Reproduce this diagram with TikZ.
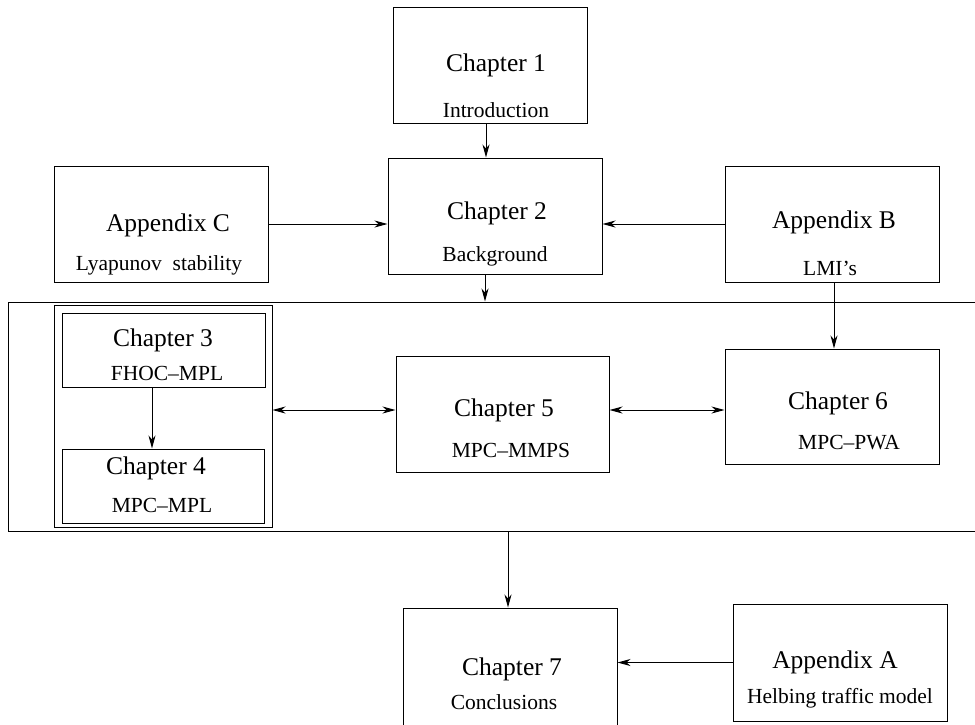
\documentclass[tikz,border=0pt]{standalone}
\usepackage{fontspec}
\setmainfont{Liberation Serif}
\usetikzlibrary{arrows.meta}
\begin{document}
\begin{tikzpicture}[x=1pt,y=-1pt,
    box/.style={draw,line width=1pt,inner sep=0pt},
    title/.style={font=\fontsize{25.5}{30}\selectfont,inner sep=0pt},
    sub/.style={font=\fontsize{21.5}{26}\selectfont,inner sep=0pt},
    arr/.style={line width=1pt,-{Stealth[length=13pt,width=7pt,inset=4pt]}},
    dbl/.style={line width=1pt,{Stealth[length=13pt,width=7pt,inset=4pt]}-{Stealth[length=13pt,width=7pt,inset=4pt]}}]
    \useasboundingbox (0,0) rectangle (975,724);
    % Boxes
    \node[box,minimum width=194pt,minimum height=116pt] (ch1) at (490,65) {};
    \node[box,minimum width=214pt,minimum height=116pt] (ch2) at (495,216) {};
    \node[box,minimum width=214pt,minimum height=116pt] (appC) at (161,224) {};
    \node[box,minimum width=214pt,minimum height=116pt] (appB) at (832,224) {};
    \node[box,minimum width=968pt,minimum height=229pt] (frame) at (492,416.5) {};
    \node[box,minimum width=218pt,minimum height=222pt] (group) at (163,416) {};
    \node[box,minimum width=203pt,minimum height=74pt] (ch3) at (163.5,350) {};
    \node[box,minimum width=202pt,minimum height=74pt] (ch4) at (163,486) {};
    \node[box,minimum width=213pt,minimum height=116pt] (ch5) at (502.5,414) {};
    \node[box,minimum width=214pt,minimum height=115pt] (ch6) at (832,406.5) {};
    \node[box,minimum width=214pt,minimum height=118pt] (ch7) at (510,667) {};
    \node[box,minimum width=214pt,minimum height=117pt] (appA) at (840,662.5) {};
    % Labels
    \node[title] (ch1t) at (496,65) {Chapter 1};
    \node[sub] (ch1s) at (496,110) {Introduction};
    \node[title] (ch2t) at (497,213) {Chapter 2};
    \node[sub] (ch2s) at (495,256) {Background};
    \node[title] (appCt) at (168,225) {Appendix C};
    \node[sub] (appCs) at (159,265) {Lyapunov\ \ stability};
    \node[title] (appBt) at (834,222) {Appendix B};
    \node[sub] (appBs) at (830,268) {LMI's};
    \node[title] (ch3t) at (163,340) {Chapter 3};
    \node[sub] (ch3s) at (167,373) {FHOC--MPL};
    \node[title] (ch4t) at (156,468) {Chapter 4};
    \node[sub] (ch4s) at (162,505) {MPC--MPL};
    \node[title] (ch5t) at (504,410) {Chapter 5};
    \node[sub] (ch5s) at (511,450) {MPC--MMPS};
    \node[title] (ch6t) at (838,403) {Chapter 6};
    \node[sub] (ch6s) at (849,443) {MPC--PWA};
    \node[title] (ch7t) at (512,669) {Chapter 7};
    \node[sub] (ch7s) at (504,702) {Conclusions};
    \node[title] (appAt) at (835,662) {Appendix A};
    \node[sub] (appAs) at (840,698) {Helbing traffic model};
    % Arrows
    \draw[arr] ([xshift=-4pt]ch1.south) -- ([xshift=-4pt]ch1.south |- ch2.north);
    \draw[arr] (appC.east) -- (appC.east -| ch2.west);
    \draw[arr] (appB.west) -- (appB.west -| ch2.east);
    \draw[arr] ([xshift=-10pt]ch2.south) -- ([xshift=-10pt]ch2.south |- frame.north);
    \draw[arr] ([xshift=2pt]appB.south) -- ([xshift=2pt]appB.south |- ch6.north);
    \draw[arr] ([xshift=-11.5pt]ch3.south) -- ([xshift=-11.5pt]ch3.south |- ch4.north);
    \draw[dbl] ([yshift=4pt]ch5.west -| group.east) -- ([yshift=4pt]ch5.west);
    \draw[dbl] ([yshift=4pt]ch5.east) -- ([yshift=4pt]ch5.east -| ch6.west);
    \draw[arr] ([xshift=-2pt]ch7.north |- frame.south) -- ([xshift=-2pt]ch7.north);
    \draw[arr] (appA.west) -- (appA.west -| ch7.east);
\end{tikzpicture}
\end{document}
